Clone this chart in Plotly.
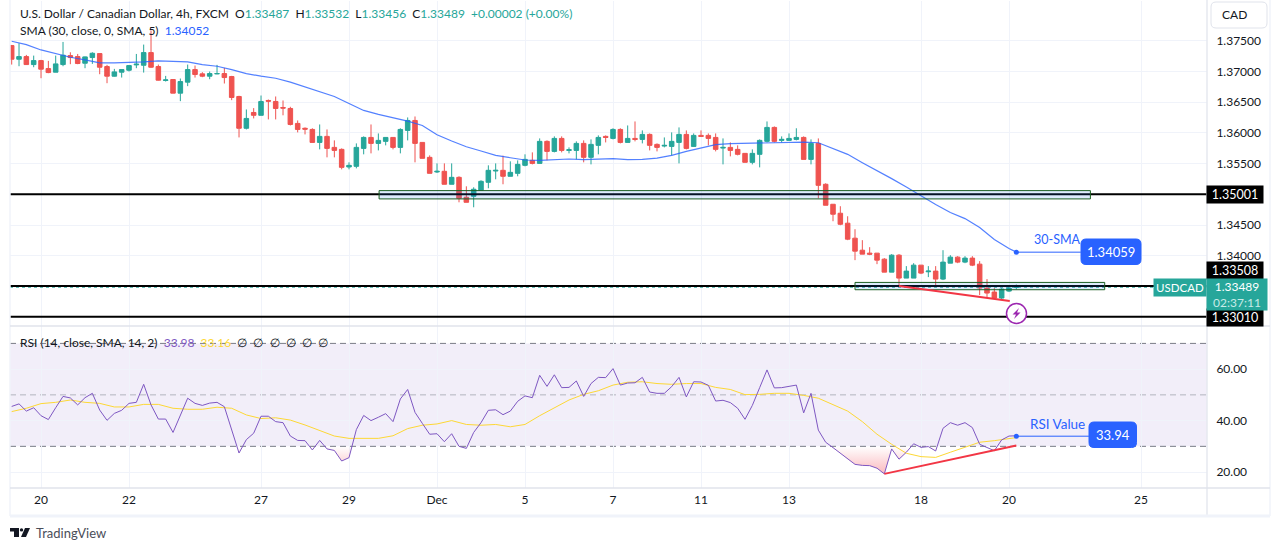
import plotly.graph_objects as go

W, H = 1275, 550
FONT = "Lato"
UP = "#26a69a"
DOWN = "#ef5350"
BLUE = "#2962ff"
GRID = "#f0f3fa"
TEXT = "#131722"

opens = [
    1.37419, 1.37197, 1.37240, 1.37110, 1.37175, 1.37045, 1.36986, 1.37110, 1.37256, 1.37240,
    1.37132, 1.37224, 1.37289, 1.37078, 1.36921, 1.36986, 1.37018, 1.37105, 1.37099, 1.37305,
    1.37078, 1.36851, 1.36867, 1.36645, 1.36824, 1.37029, 1.36959, 1.36921, 1.36959, 1.36964,
    1.36915, 1.36591, 1.36074, 1.36331, 1.36285, 1.36526, 1.36510, 1.36412, 1.36396, 1.36153,
    1.36074, 1.36055, 1.35844, 1.35942, 1.35763, 1.35731, 1.35444, 1.35455, 1.35747, 1.35925,
    1.35828, 1.35861, 1.35925, 1.35763, 1.36039, 1.36201, 1.35844, 1.35601, 1.35363, 1.35374,
    1.35163, 1.35276, 1.34952, 1.34968, 1.35065, 1.35195, 1.35379, 1.35390, 1.35293, 1.35341,
    1.35471, 1.35552, 1.35503, 1.35861, 1.35698, 1.35909, 1.35714, 1.35714, 1.35828, 1.35601,
    1.35796, 1.35942, 1.35909, 1.36055, 1.35844, 1.35909, 1.35893, 1.35974, 1.35812, 1.35785,
    1.35779, 1.35844, 1.35974, 1.35779, 1.35958, 1.35958, 1.35925, 1.35752, 1.35763, 1.35731,
    1.35666, 1.35520, 1.35650, 1.35861, 1.36088, 1.35877, 1.35877, 1.35893, 1.35925, 1.35568,
    1.35828, 1.35163, 1.34838, 1.34692, 1.34530, 1.34286, 1.34091, 1.34043, 1.34043, 1.33945,
    1.33734, 1.34010, 1.33637, 1.33637, 1.33848, 1.33740, 1.33751, 1.33621, 1.33880, 1.33978,
    1.33897, 1.33962, 1.33864, 1.33475, 1.33410, 1.33313, 1.33426, 1.33487,
]
highs = [
    1.37429, 1.37457, 1.37267, 1.37256, 1.37186, 1.37170, 1.37256, 1.37478, 1.37310, 1.37283,
    1.37240, 1.37310, 1.37294, 1.37105, 1.37040, 1.37029, 1.37094, 1.37283, 1.37435, 1.37662,
    1.37110, 1.36926, 1.36867, 1.36883, 1.37110, 1.37094, 1.36986, 1.36997, 1.37105, 1.37056,
    1.36926, 1.36602, 1.36380, 1.36402, 1.36607, 1.36542, 1.36591, 1.36526, 1.36423, 1.36201,
    1.36088, 1.36074, 1.36136, 1.36055, 1.35877, 1.35747, 1.35520, 1.35828, 1.35942, 1.36136,
    1.35990, 1.35925, 1.35925, 1.36074, 1.36250, 1.36266, 1.35844, 1.35633, 1.35503, 1.35503,
    1.35503, 1.35293, 1.35130, 1.35114, 1.35228, 1.35471, 1.35503, 1.35628, 1.35536, 1.35552,
    1.35650, 1.35682, 1.35909, 1.35877, 1.35942, 1.35942, 1.35763, 1.35861, 1.35877, 1.35893,
    1.35958, 1.35958, 1.36074, 1.36074, 1.36120, 1.36185, 1.36039, 1.35990, 1.35828, 1.35925,
    1.36007, 1.36088, 1.36039, 1.35990, 1.36039, 1.35990, 1.35990, 1.35909, 1.35844, 1.35796,
    1.35666, 1.35731, 1.35893, 1.36185, 1.36104, 1.35942, 1.35990, 1.36074, 1.35942, 1.35893,
    1.35909, 1.35179, 1.34838, 1.34806, 1.34643, 1.34432, 1.34254, 1.34140, 1.34043, 1.33962,
    1.34027, 1.34027, 1.33832, 1.33880, 1.33848, 1.33832, 1.33832, 1.34091, 1.34010, 1.33994,
    1.33994, 1.33994, 1.33913, 1.33621, 1.33475, 1.33475, 1.33507, 1.33532,
]
lows = [
    1.37110, 1.37083, 1.37105, 1.37067, 1.36888, 1.36970, 1.36986, 1.37083, 1.37116, 1.37116,
    1.37051, 1.37121, 1.36953, 1.36807, 1.36915, 1.36899, 1.36997, 1.37051, 1.36980, 1.37056,
    1.36851, 1.36834, 1.36645, 1.36515, 1.36759, 1.36899, 1.36905, 1.36872, 1.36953, 1.36802,
    1.36531, 1.35925, 1.36055, 1.36234, 1.36285, 1.36218, 1.36218, 1.36285, 1.36120, 1.36007,
    1.35974, 1.35844, 1.35731, 1.35601, 1.35601, 1.35406, 1.35406, 1.35422, 1.35650, 1.35666,
    1.35714, 1.35796, 1.35731, 1.35666, 1.35877, 1.35520, 1.35585, 1.35341, 1.35347, 1.35163,
    1.35163, 1.34870, 1.34870, 1.34789, 1.35065, 1.35098, 1.35244, 1.35163, 1.35293, 1.35293,
    1.35455, 1.35487, 1.35503, 1.35552, 1.35682, 1.35682, 1.35666, 1.35568, 1.35520, 1.35487,
    1.35650, 1.35844, 1.35893, 1.35828, 1.35844, 1.35861, 1.35828, 1.35714, 1.35698, 1.35763,
    1.35633, 1.35503, 1.35731, 1.35779, 1.35942, 1.35796, 1.35698, 1.35487, 1.35617, 1.35633,
    1.35520, 1.35487, 1.35438, 1.35844, 1.35844, 1.35844, 1.35877, 1.35877, 1.35568, 1.35487,
    1.34935, 1.34822, 1.34562, 1.34497, 1.34254, 1.33929, 1.34027, 1.34010, 1.33864, 1.33734,
    1.33734, 1.33491, 1.33637, 1.33637, 1.33702, 1.33653, 1.33491, 1.33605, 1.33880, 1.33880,
    1.33880, 1.33832, 1.33361, 1.33329, 1.33296, 1.33296, 1.33410, 1.33456,
]
closes = [
    1.37197, 1.37240, 1.37110, 1.37175, 1.37035, 1.36980, 1.37121, 1.37262, 1.37224, 1.37127,
    1.37235, 1.37294, 1.37067, 1.36921, 1.36991, 1.37029, 1.37094, 1.37116, 1.37305, 1.37067,
    1.36856, 1.36861, 1.36645, 1.36834, 1.37029, 1.36948, 1.36921, 1.36964, 1.36964, 1.36899,
    1.36575, 1.36074, 1.36234, 1.36285, 1.36510, 1.36515, 1.36396, 1.36402, 1.36136, 1.36055,
    1.36060, 1.35844, 1.35942, 1.35747, 1.35714, 1.35438, 1.35471, 1.35763, 1.35925, 1.35828,
    1.35877, 1.35925, 1.35763, 1.36055, 1.36201, 1.35828, 1.35585, 1.35341, 1.35374, 1.35163,
    1.35276, 1.34935, 1.34870, 1.35082, 1.35211, 1.35390, 1.35390, 1.35293, 1.35357, 1.35487,
    1.35568, 1.35503, 1.35861, 1.35698, 1.35909, 1.35714, 1.35725, 1.35828, 1.35601, 1.35812,
    1.35925, 1.35925, 1.36055, 1.35844, 1.35909, 1.35893, 1.35974, 1.35796, 1.35763, 1.35796,
    1.35861, 1.35974, 1.35747, 1.35958, 1.35942, 1.35909, 1.35731, 1.35763, 1.35714, 1.35650,
    1.35520, 1.35666, 1.35877, 1.36088, 1.35861, 1.35893, 1.35909, 1.35925, 1.35568, 1.35828,
    1.35146, 1.34822, 1.34676, 1.34513, 1.34270, 1.34075, 1.34027, 1.34027, 1.33929, 1.33734,
    1.34010, 1.33637, 1.33751, 1.33848, 1.33718, 1.33751, 1.33621, 1.33897, 1.33978, 1.33897,
    1.33962, 1.33848, 1.33475, 1.33394, 1.33313, 1.33458, 1.33475, 1.33489,
]

# read every second bar, the last one is the label value
sma_bars = list(range(0, 137, 2)) + [137]
sma_values = [
    1.37489, 1.37435, 1.37348, 1.37283, 1.37229, 1.37186, 1.37137, 1.37137, 1.37143, 1.37154,
    1.37170, 1.37164, 1.37154, 1.37110, 1.37083, 1.37029, 1.36964, 1.36921, 1.36888, 1.36824,
    1.36748, 1.36672, 1.36591, 1.36477, 1.36364, 1.36299, 1.36245, 1.36191, 1.36120, 1.35969,
    1.35866, 1.35774, 1.35704, 1.35633, 1.35595, 1.35558, 1.35552, 1.35558, 1.35574, 1.35563,
    1.35568, 1.35579, 1.35563, 1.35568, 1.35590, 1.35633, 1.35698, 1.35758, 1.35807, 1.35823,
    1.35828, 1.35834, 1.35839, 1.35839, 1.35850, 1.35839, 1.35742, 1.35650, 1.35514, 1.35390,
    1.35255, 1.35119, 1.34973, 1.34833, 1.34703, 1.34605, 1.34459, 1.34265, 1.34119, 1.34059,
]

rsi_values = [
    45.5, 46.5, 43.7, 45.0, 41.9, 40.4, 45.0, 49.4, 48.8, 46.1,
    48.9, 50.6, 44.1, 40.1, 42.8, 44.0, 46.7, 47.1, 54.1, 46.1,
    40.6, 40.6, 35.4, 42.2, 48.7, 46.7, 45.9, 46.8, 47.1, 45.4,
    36.3, 27.4, 32.6, 35.1, 41.7, 41.7, 39.6, 39.2, 34.0, 32.3,
    32.2, 28.6, 32.3, 29.0, 28.4, 24.3, 25.6, 36.5, 42.0, 40.0,
    41.3, 42.7, 39.6, 48.4, 52.1, 43.2, 38.9, 34.7, 34.9, 31.8,
    34.9, 30.0, 29.2, 35.4, 39.2, 44.0, 44.2, 42.3, 43.7, 47.5,
    49.6, 48.9, 57.6, 53.3, 57.8, 52.8, 52.9, 55.4, 49.4, 54.4,
    56.8, 56.7, 60.2, 53.8, 54.6, 54.7, 56.8, 51.1, 50.6, 50.6,
    53.2, 56.8, 49.2, 55.1, 55.0, 53.7, 47.6, 47.9, 47.0, 44.8,
    40.5, 45.9, 52.8, 59.7, 52.7, 52.8, 53.3, 53.8, 43.0, 50.6,
    36.3, 31.6, 29.5, 27.3, 25.0, 23.0, 22.6, 22.5, 21.5, 19.3,
    29.0, 25.0, 27.7, 31.0, 29.6, 29.9, 28.2, 37.0, 39.2, 38.2,
    39.2, 37.3, 30.8, 29.6, 28.3, 32.5, 34.0, 34.1,
]
rsi_ma_bars = list(range(0, 137, 2)) + [137]
rsi_ma_values = [
    43.5, 44.8, 46.6, 47.1, 48.0, 47.1, 46.7, 45.3, 45.3, 46.3,
    46.3, 44.8, 44.4, 44.4, 45.2, 44.8, 42.2, 40.8, 41.1, 40.2,
    38.3, 36.0, 34.0, 33.1, 33.1, 33.1, 34.1, 36.9, 38.2, 38.7,
    40.0, 38.5, 38.2, 38.5, 37.6, 38.5, 41.9, 44.8, 48.0, 50.2,
    51.6, 53.8, 54.9, 55.1, 54.4, 54.1, 54.4, 54.4, 52.9, 52.1,
    50.1, 50.2, 50.6, 50.6, 49.8, 48.7, 46.1, 43.7, 39.6, 34.7,
    30.8, 27.3, 26.0, 25.7, 27.7, 29.6, 31.6, 32.2, 33.1, 33.4,
]

assert len(opens) == len(highs) == len(lows) == len(closes) == len(rsi_values)
assert len(sma_bars) == len(sma_values)
assert len(rsi_ma_bars) == len(rsi_ma_values)

bars = list(range(len(closes)))
date_ticks = [4, 16, 34, 46, 58, 70, 82, 94, 106, 124, 136, 154]
date_labels = ["20", "22", "27", "29", "Dec", "5", "7", "11", "13", "18", "20", "25"]
price_ticks = [1.375, 1.37, 1.365, 1.36, 1.355, 1.345, 1.34]
rsi_ticks = [60, 40, 20]
levels = [1.35001, 1.33508, 1.33010]
zones = [(50.1, 147.1, 1.35060, 1.34925), (115, 149.05, 1.33567, 1.33448)]
price_trend = ([121, 136.1], [1.33507, 1.33264])
rsi_trend = ([119, 137], [19.3, 30.3])
last_close = 1.33489
sma_label = 1.34059
rsi_label = 33.94


def px(x):
    return x / W


def py(y):
    return 1 - y / H


def rounded(x0, y0, x1, y1, r, fill, line=None):
    path = (
        f"M {px(x0 + r)} {py(y0)} L {px(x1 - r)} {py(y0)} Q {px(x1)} {py(y0)} {px(x1)} {py(y0 + r)} "
        f"L {px(x1)} {py(y1 - r)} Q {px(x1)} {py(y1)} {px(x1 - r)} {py(y1)} "
        f"L {px(x0 + r)} {py(y1)} Q {px(x0)} {py(y1)} {px(x0)} {py(y1 - r)} "
        f"L {px(x0)} {py(y0 + r)} Q {px(x0)} {py(y0)} {px(x0 + r)} {py(y0)} Z"
    )
    return dict(type="path", xref="paper", yref="paper", path=path, fillcolor=fill,
                line=dict(color=line or fill, width=1), layer="above")


def label(text, x, y, size=12, color=TEXT, anchor="left"):
    return dict(text=text, xref="paper", yref="paper", x=px(x), y=py(y), xanchor=anchor, yanchor="middle",
                showarrow=False, font=dict(family=FONT, size=size, color=color), align=anchor)


def tag(text, x0, y0, x1, y1, bg, color="white", size=12):
    return dict(text=text, xref="paper", yref="paper", x=px((x0 + x1) / 2), y=py((y0 + y1) / 2),
                xanchor="center", yanchor="middle", width=x1 - x0, height=y1 - y0, bgcolor=bg,
                borderpad=0, showarrow=False, align="center", valign="middle",
                font=dict(family=FONT, size=size, color=color))


fig = go.Figure()

fig.add_trace(go.Candlestick(
    x=bars, open=opens, high=highs, low=lows, close=closes, xaxis="x", yaxis="y", whiskerwidth=0,
    increasing=dict(line=dict(color=UP, width=1), fillcolor=UP),
    decreasing=dict(line=dict(color=DOWN, width=1), fillcolor=DOWN),
))
fig.add_trace(go.Scatter(x=sma_bars, y=sma_values, mode="lines", line=dict(color=BLUE, width=1.2),
                         xaxis="x", yaxis="y", opacity=0.8))
fig.add_trace(go.Scatter(x=[sma_bars[-1]], y=[sma_label], mode="markers", xaxis="x", yaxis="y",
                         marker=dict(color=BLUE, size=5)))

# oversold area of the RSI, from the RSI values themselves
fill_x, fill_y = [], []
for i, v in enumerate(rsi_values):
    if v < 30:
        if not fill_x or fill_x[-1] is None:
            fill_x.append(i - 1 + (rsi_values[i - 1] - 30) / (rsi_values[i - 1] - v))
            fill_y.append(30)
        fill_x.append(i)
        fill_y.append(v)
    elif fill_x and fill_x[-1] is not None:
        fill_x.append(i - 1 + (30 - rsi_values[i - 1]) / (v - rsi_values[i - 1]))
        fill_y.append(30)
        fill_x.append(None)
        fill_y.append(None)
fig.add_trace(go.Scatter(
    x=fill_x, y=fill_y, mode="none", fill="toself", xaxis="x2", yaxis="y2",
    fillgradient=dict(type="vertical", colorscale=[[0, "rgba(242,54,69,0.35)"], [1, "rgba(242,54,69,0)"]]),
))
fig.add_trace(go.Scatter(x=rsi_ma_bars, y=rsi_ma_values, mode="lines", xaxis="x2", yaxis="y2",
                         line=dict(color="#fdd835", width=1)))
fig.add_trace(go.Scatter(x=bars, y=rsi_values, mode="lines", xaxis="x2", yaxis="y2",
                         line=dict(color="#7e57c2", width=1)))
fig.add_trace(go.Scatter(x=[rsi_ma_bars[-1]], y=[rsi_label], mode="markers", xaxis="x2", yaxis="y2",
                         marker=dict(color=BLUE, size=5)))

shapes = []
# rsi band and its dashed limits
shapes.append(dict(type="rect", xref="x2 domain", yref="y2", x0=0, x1=1, y0=30, y1=70, layer="below",
                   fillcolor="rgba(126,87,194,0.1)", line=dict(width=0)))
for v, c in [(70, "#787b86"), (50, "#b2b5be"), (30, "#787b86")]:
    shapes.append(dict(type="line", xref="x2 domain", yref="y2", x0=0, x1=1, y0=v, y1=v, layer="below",
                       line=dict(color=c, width=1, dash="6px,4px")))

# last price, levels and zones
shapes.append(dict(type="line", xref="x domain", yref="y", x0=0, x1=1, y0=last_close, y1=last_close,
                   line=dict(color=UP, width=1, dash="dot"), layer="above"))
for lv in levels:
    shapes.append(dict(type="line", xref="x domain", yref="y", x0=0, x1=1, y0=lv, y1=lv,
                       line=dict(color="black", width=2), layer="above"))
for x0, x1, y0, y1 in zones:
    shapes.append(dict(type="rect", xref="x", yref="y", x0=x0, x1=x1, y0=y0, y1=y1, layer="above",
                       fillcolor="rgba(33,120,243,0.15)", line=dict(color="#1b5e20", width=1)))

# divergence lines
shapes.append(dict(type="line", xref="x", yref="y", x0=price_trend[0][0], x1=price_trend[0][1],
                   y0=price_trend[1][0], y1=price_trend[1][1], line=dict(color="#f23645", width=2), layer="above"))
shapes.append(dict(type="line", xref="x2", yref="y2", x0=rsi_trend[0][0], x1=rsi_trend[0][1],
                   y0=rsi_trend[1][0], y1=rsi_trend[1][1], line=dict(color="#f23645", width=2), layer="above"))

# callouts
shapes.append(dict(type="line", xref="x", yref="y", x0=sma_bars[-1], x1=145.8, y0=sma_label, y1=sma_label,
                   line=dict(color=BLUE, width=1), layer="above"))
shapes.append(dict(type="line", xref="x2", yref="y2", x0=rsi_ma_bars[-1], x1=146.9, y0=rsi_label, y1=rsi_label,
                   line=dict(color=BLUE, width=1), layer="above"))
shapes.append(rounded(1081, 239, 1141, 264.5, 5, BLUE))
shapes.append(rounded(1089, 422, 1136.5, 447.5, 5, BLUE))

# bolt badge
shapes.append(dict(type="circle", xref="paper", yref="paper", x0=px(1006.5), x1=px(1026.5), y0=py(323.5), y1=py(303.5),
                   fillcolor="white", line=dict(color="#9c27b0", width=1.5), layer="above"))
bolt = [(1019, 308), (1012.5, 314.5), (1016, 314.5), (1014, 319), (1020.5, 312.5), (1017, 312.5)]
shapes.append(dict(type="path", xref="paper", yref="paper", fillcolor="#9c27b0", line=dict(width=0), layer="above",
                   path="M " + " L ".join(f"{px(a)} {py(b)}" for a, b in bolt) + " Z"))

# frame
for x in (10, 1207, 1270):
    shapes.append(dict(type="line", xref="paper", yref="paper", x0=px(x), x1=px(x), y0=py(0), y1=py(516),
                       line=dict(color="#e6e8ef" if x == 1207 else GRID, width=1.5), layer="above"))
shapes.append(dict(type="line", xref="paper", yref="paper", x0=px(10), x1=px(1270), y0=py(516), y1=py(516),
                   line=dict(color=GRID, width=3), layer="above"))
shapes.append(dict(type="line", xref="paper", yref="paper", x0=px(10), x1=px(1270), y0=py(326), y1=py(326),
                   line=dict(color="#e0e3eb", width=1.5), layer="above"))
shapes.append(dict(type="line", xref="paper", yref="paper", x0=px(10), x1=px(1270), y0=py(488), y1=py(488),
                   line=dict(color="#e0e3eb", width=1.5), layer="above"))
shapes.append(rounded(1211, 2, 1267, 28, 5, "white", "#e0e3eb"))

# logo
for pts in ([(10, 528), (19, 528), (19, 537), (14, 537), (14, 531.5), (10, 531.5)],
            [(25, 528), (30, 528), (26, 537), (21, 537)]):
    shapes.append(dict(type="path", xref="paper", yref="paper", fillcolor=TEXT, line=dict(width=0), layer="above",
                       path="M " + " L ".join(f"{px(a)} {py(b)}" for a, b in pts) + " Z"))
shapes.append(dict(type="circle", xref="paper", yref="paper", x0=px(19.8), x1=px(23.2), y0=py(531.6), y1=py(528.2),
                   fillcolor=TEXT, line=dict(width=0), layer="above"))

header = (
    "U.S. Dollar / Canadian Dollar, 4h, FXCM&nbsp;&nbsp;"
    f"O<span style='color:{UP}'>1.33487</span>&nbsp;&nbsp;"
    f"H<span style='color:{UP}'>1.33532</span>&nbsp;&nbsp;"
    f"L<span style='color:{UP}'>1.33456</span>&nbsp;&nbsp;"
    f"C<span style='color:{UP}'>1.33489</span>&nbsp;&nbsp;"
    f"<span style='color:{UP}'>+0.00002 (+0.00%)</span>"
)
sma_header = f"SMA (30, close, 0, SMA, 5)&nbsp;&nbsp;<span style='color:{BLUE}'>1.34052</span>"
rsi_header = (
    "RSI (14, close, SMA, 14, 2)&nbsp;&nbsp;<span style='color:#7e57c2'>33.98</span>&nbsp;&nbsp;"
    "<span style='color:#fdd835'>33.16</span>&nbsp;&nbsp;∅&nbsp;&nbsp;∅&nbsp;&nbsp;∅&nbsp;&nbsp;∅&nbsp;&nbsp;∅&nbsp;&nbsp;∅"
)

annotations = [
    label(header, 18, 13),
    label(sma_header, 18, 30),
    label(rsi_header, 18, 342),
    label("CAD", 1220, 15),
    label("30-SMA", 1032, 240, size=12.5, color=BLUE),
    label("RSI Value", 1028, 424, size=13.5, color=BLUE),
    label("1.34059", 1111, 252, size=13, color="white", anchor="center"),
    label("33.94", 1113, 435, size=13, color="white", anchor="center"),
    tag("1.35001", 1207, 186, 1263, 203, "#000000", size=12.5),
    tag("1.33508", 1207, 262, 1263, 279, "#000000", size=12.5),
    tag("1.33010", 1207, 309, 1263, 325.5, "#000000", size=12.5),
    tag("USDCAD", 1154, 279, 1206, 296, UP, size=11.5),
    tag("1.33489<br><span style='color:#c8ebe7'>02:37:11</span>", 1207, 279, 1267, 310, UP),
    label("TradingView", 34, 533, size=13, color="#4a4e59"),
]

fig.update_layout(
    width=W, height=H, autosize=False, showlegend=False,
    margin=dict(l=0, r=0, t=0, b=0),
    paper_bgcolor="white", plot_bgcolor="white",
    font=dict(family=FONT, size=12, color=TEXT),
    boxmode="overlay", boxgap=0.12,
    xaxis=dict(domain=[px(10), px(1207)], range=[-0.23, 163], anchor="y", rangeslider=dict(visible=False),
               tickvals=date_ticks, showticklabels=False, ticks="", showgrid=True, gridcolor=GRID, zeroline=False),
    yaxis=dict(domain=[py(326), py(1)], range=[1.32858, 1.38144], anchor="x", side="right",
               tickvals=price_ticks, tickformat=".5f", showgrid=True, gridcolor=GRID, zeroline=False,
               ticks="outside", ticklen=6, tickcolor="rgba(0,0,0,0)"),
    xaxis2=dict(domain=[px(10), px(1207)], range=[-0.23, 163], anchor="y2", matches="x",
                tickvals=date_ticks, ticktext=date_labels, showgrid=True, gridcolor=GRID, zeroline=False,
                ticks="outside", ticklen=1, tickcolor="rgba(0,0,0,0)"),
    yaxis2=dict(domain=[py(488), py(326)], range=[13.81, 76.76], anchor="x2", side="right",
                tickvals=rsi_ticks, tickformat=".2f", showgrid=True, gridcolor=GRID, zeroline=False,
                ticks="outside", ticklen=6, tickcolor="rgba(0,0,0,0)"),
    shapes=shapes,
    annotations=annotations,
)

fig.write_html("out.html", config=dict(displayModeBar=False),
               post_script="document.body.style.margin='0';")
